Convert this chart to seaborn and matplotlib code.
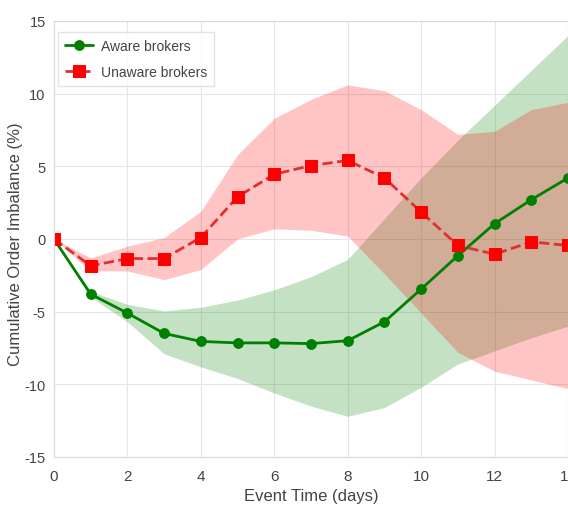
import numpy as np
import matplotlib
matplotlib.use('Agg')
import matplotlib.pyplot as plt
import seaborn as sns

days = list(range(15))

aware = [0.0, -3.8, -5.1, -6.5, -7.05, -7.15, -7.15, -7.2, -7.0, -5.7, -3.45, -1.15, 1.05, 2.7, 4.2]
aware_upper = [0.0, -3.6, -4.5, -4.95, -4.7, -4.2, -3.5, -2.6, -1.4, 1.4, 4.2, 6.8, 9.2, 11.6, 14.0]
aware_lower = [0.0, -4.0, -5.7, -7.9, -8.8, -9.6, -10.6, -11.5, -12.2, -11.6, -10.2, -8.6, -7.7, -6.8, -6.0]

unaware = [0.0, -1.85, -1.35, -1.35, 0.1, 2.9, 4.45, 5.05, 5.4, 4.2, 1.85, -0.45, -1.05, -0.2, -0.45]
unaware_upper = [0.0, -1.3, -0.5, 0.1, 1.9, 5.8, 8.3, 9.6, 10.6, 10.2, 8.9, 7.2, 7.4, 8.9, 9.4]
unaware_lower = [0.0, -2.2, -2.2, -2.8, -2.1, 0.0, 0.7, 0.6, 0.2, -2.4, -5.1, -7.8, -9.1, -9.7, -10.3]

sns.set_style('whitegrid', rc={'axes.edgecolor': '#d9d9d9', 'grid.color': '#e6e6e6',
                               'axes.linewidth': 1.0})
plt.rcParams['font.family'] = ['Liberation Sans', 'DejaVu Sans']
plt.rcParams['axes.unicode_minus'] = False

fig, ax = plt.subplots(figsize=(5.68, 5.10), dpi=100)
fig.subplots_adjust(left=0.095, right=1.0, bottom=0.102, top=0.957)

ax.fill_between(days, aware_lower, aware_upper, color='green', alpha=0.23, linewidth=0)
ax.fill_between(days, unaware_lower, unaware_upper, color='red', alpha=0.23, linewidth=0)

sns.lineplot(x=days, y=aware, ax=ax, color='green', linewidth=2, marker='o',
             markersize=7, markeredgecolor='green', label='Aware brokers')
sns.lineplot(x=days, y=unaware, ax=ax, color='#e03030', linewidth=2, linestyle='--',
             marker='s', markersize=8, markerfacecolor='red', markeredgecolor='red',
             label='Unaware brokers')

ax.set_xlim(0, 14)
ax.set_ylim(-15, 15)
ax.set_xticks(range(0, 15, 2))
ax.set_yticks(range(-15, 16, 5))
ax.tick_params(axis='both', labelsize=11, labelcolor='#444444', length=0)
ax.tick_params(axis='x', pad=9)
ax.tick_params(axis='y', labelsize=10.5, pad=6)
ax.set_xlabel('Event Time (days)', fontsize=12, color='#444444', labelpad=3)
ax.set_ylabel('Cumulative Order Imbalance (%)', fontsize=12, color='#444444')
ax.yaxis.set_label_coords(-0.06, 0.49)

leg = ax.legend(loc='upper left', fontsize=10, frameon=True, borderpad=0.5,
                handlelength=2.0, handletextpad=0.6, labelspacing=0.9, fancybox=False,
                borderaxespad=0.3, bbox_to_anchor=(0.0, 0.985))
leg.get_frame().set_edgecolor('#dddddd')
for t in leg.get_texts():
    t.set_color('#444444')

fig.savefig('out.png', dpi=100)
